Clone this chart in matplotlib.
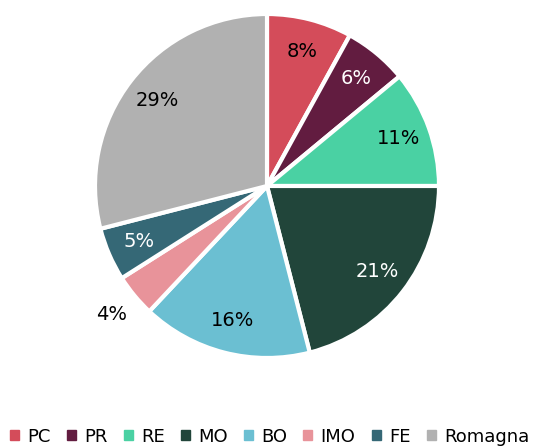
import matplotlib.pyplot as plt

labels = ['PC', 'PR', 'RE', 'MO', 'BO', 'IMO', 'FE', 'Romagna']
values = [8, 6, 11, 21, 16, 4, 5, 29]
colors = ['#d44c5a', '#621c40', '#4ad1a3', '#21453a', '#6bbfd2',
          '#e8939a', '#356876', '#b1b1b1']
text_colors = ['black', 'white', 'black', 'white', 'black', 'black', 'white', 'black']

fig = plt.figure(figsize=(5.34, 4.47), dpi=100)
ax = fig.add_axes([(267 - 172) / 534, 1 - (186 + 172) / 447, 344 / 534, 344 / 447])

wedges, texts, autotexts = ax.pie(
    values, colors=colors, startangle=90, counterclock=False,
    autopct='%d%%', pctdistance=0.81,
    wedgeprops=dict(edgecolor='white', linewidth=3))
ax.set_aspect('equal')
ax.set_xlim(-1, 1)
ax.set_ylim(-1, 1)

for t, c in zip(autotexts, text_colors):
    t.set_color(c)
    t.set_fontsize(14)
# small slice label sits outside
x, y = autotexts[5].get_position()
autotexts[5].set_position((x * 1.45, y * 1.45))

handles = [plt.Rectangle((0, 0), 1, 1, color=c) for c in colors]
fig.legend(handles, labels, loc='lower center', ncol=8, frameon=False,
           fontsize=13, handlelength=0.5, handleheight=0.5,
           handletextpad=0.45, columnspacing=0.9, borderpad=0.2,
           bbox_to_anchor=(0.505, -0.025))

fig.savefig('out.png', dpi=100)
